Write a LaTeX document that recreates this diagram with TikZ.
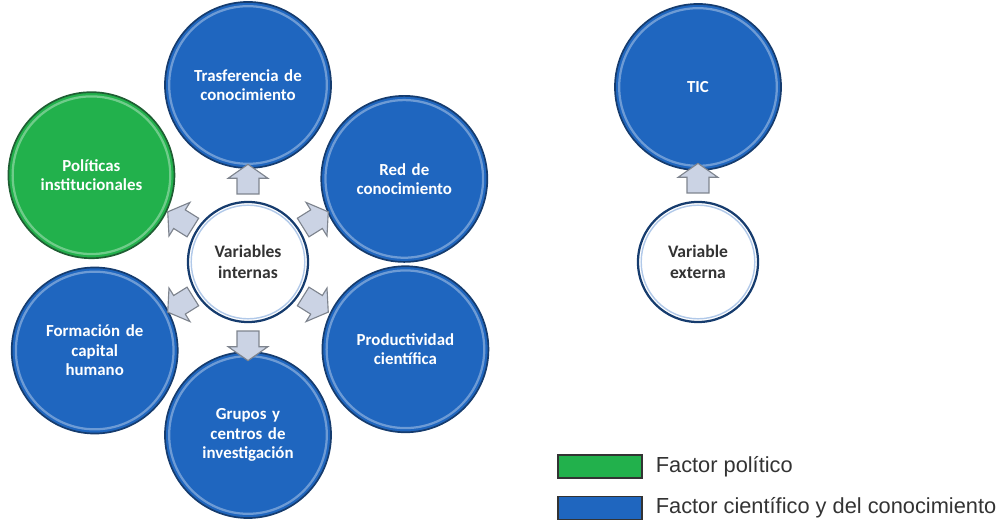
\documentclass[tikz,border=0pt]{standalone}
\usepackage{fontspec}
\setmainfont{Carlito}
\newfontfamily\legendfont{Liberation Sans}
\usetikzlibrary{shapes.arrows, positioning}
\definecolor{azul}{HTML}{1F66BF}
\definecolor{bordeazul}{HTML}{163C6E}
\definecolor{verde}{HTML}{22B14C}
\definecolor{bordeverde}{HTML}{1F5E33}
\definecolor{grisflecha}{HTML}{7E848E}
\definecolor{grisclaro}{HTML}{CBD3E4}
\definecolor{textogris}{HTML}{333333}

\begin{document}
\begin{tikzpicture}[x=0.025cm, y=0.025cm, thick]
    % Define block styles
    \tikzstyle{factor} = [circle, draw=bordeazul, fill=azul, line width=1.2pt,
        minimum size=4.15cm, text width=3.4cm, align=center, inner sep=0pt,
        text=white, font=\bfseries\fontsize{12}{13.8}\selectfont,
        path picture={\draw[white, opacity=0.35, line width=1.6pt]
            (path picture bounding box.center) circle (1.97cm);}]
    \tikzstyle{nucleo} = [circle, draw=bordeazul, fill=white, line width=1.6pt,
        minimum size=3cm, text width=2.6cm, align=center, inner sep=0pt,
        text=textogris, font=\bfseries\fontsize{12.5}{14.5}\selectfont,
        path picture={\draw[azul!35, line width=1pt]
            (path picture bounding box.center) circle (1.42cm);}]
    \tikzstyle{flecha} = [single arrow, draw=grisflecha, fill=grisclaro, line width=0.8pt,
        minimum height=0.7cm, inner sep=0.26cm, single arrow head extend=0.22cm,
        single arrow tip angle=110]
    \tikzstyle{leyenda} = [rectangle, draw=black!80, line width=0.8pt,
        minimum width=2.1cm, minimum height=0.575cm]
    \tikzstyle{etiqueta} = [text=textogris, font=\legendfont\fontsize{15.5}{17}\selectfont]

    \useasboundingbox (0,0) rectangle (1004,525);

    % Define nodes
    \node [nucleo] (internas) at (248,263) {Variables\\internas};
    \node [factor] (trasferencia) at ([shift={(90:177)}]internas) {Trasferencia de\\conocimiento};
    \node [factor, fill=verde, draw=bordeverde] (politicas) at ([shift={(151:179)}]internas) {Políticas\\institucionales};
    \node [factor] (red) at ([shift={(28:177)}]internas) {Red de\\conocimiento};
    \node [factor] (formacion) at ([shift={(210:177)}]internas) {Formación de\\capital\\humano};
    \node [factor] (productividad) at ([shift={(331:180)}]internas) {Productividad\\científica};
    \node [factor] (grupos) at ([shift={(270:173)}]internas) {Grupos y\\centros de\\investigación};

    \node [nucleo] (externa) at (698,263) {Variable\\externa};
    \node [factor] (tic) at ([shift={(90:175)}]externa) {TIC};

    % Draw arrows
    \node [flecha, rotate=90] (f1) at ([shift={(90:79)}]internas) {};
    \node [flecha, rotate=148] (f2) at ([shift={(148:76)}]internas) {};
    \node [flecha, rotate=32] (f3) at ([shift={(32:76)}]internas) {};
    \node [flecha, rotate=212] (f4) at ([shift={(212:76)}]internas) {};
    \node [flecha, rotate=328] (f5) at ([shift={(328:76)}]internas) {};
    \node [flecha, rotate=270] (f6) at ([shift={(270:80)}]internas) {};
    \node [flecha, rotate=90] (f7) at ([shift={(90:80)}]externa) {};

    % Legend
    \node [leyenda, fill=verde] (lverde) at (600,58.5) {};
    \node [leyenda, fill=azul] (lazul) at (600,17) {};
    \node [etiqueta, right=0.2cm of lverde] (tverde) {Factor político};
    \node [etiqueta, right=0.2cm of lazul] (tazul) {Factor científico y del conocimiento};
\end{tikzpicture}
\end{document}
